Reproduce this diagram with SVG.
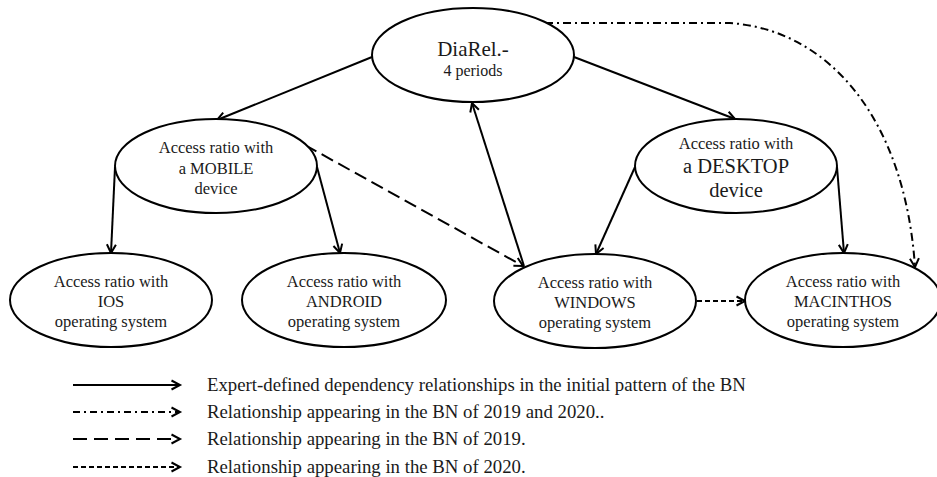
<svg xmlns="http://www.w3.org/2000/svg" width="937" height="477" viewBox="0 0 937 477" font-family="'Liberation Serif', 'Times New Roman', serif">
<defs>
<style>
.node ellipse{fill:#fff;stroke:#000;stroke-width:2}
text{font-family:'Liberation Serif','Times New Roman',serif;fill:#1a1a1a}
.t{font-size:16.5px;text-anchor:middle}
.big{font-size:20.5px;text-anchor:middle}
.leg{font-size:18.8px}
.e{fill:none;stroke:#000;stroke-width:2}
.dd{stroke-dasharray:8 4 2 4}
.ld{stroke-dasharray:13 6}
.sd{stroke-dasharray:5 3}
</style>
<marker id="ah" markerUnits="userSpaceOnUse" markerWidth="12" markerHeight="12" refX="10" refY="6" orient="auto" overflow="visible">
<path d="M1.5,1.5 L10,6 L1.5,10.5" fill="none" stroke="#000" stroke-width="2" stroke-dasharray="none"/>
</marker>
</defs>
<rect width="937" height="477" fill="#fff"/>
<g id="connectors">
<line class="e" x1="372" y1="57" x2="217" y2="120" marker-end="url(#ah)"/>
<line class="e" x1="574" y1="57" x2="735" y2="119" marker-end="url(#ah)"/>
<line class="e" x1="115" y1="167" x2="111" y2="253" marker-end="url(#ah)"/>
<line class="e" x1="317" y1="167" x2="340" y2="253" marker-end="url(#ah)"/>
<line class="e ld" x1="305" y1="145" x2="523" y2="266" marker-end="url(#ah)"/>
<line class="e" x1="524" y1="266" x2="472" y2="103" marker-end="url(#ah)"/>
<line class="e" x1="635" y1="167" x2="596" y2="254" marker-end="url(#ah)"/>
<line class="e" x1="837" y1="167" x2="844" y2="253" marker-end="url(#ah)"/>
<line class="e sd" x1="697" y1="301" x2="745" y2="301" marker-end="url(#ah)"/>
<path class="e dd" d="M545,23 L730,23 C830,30 905,120 915,267" marker-end="url(#ah)"/>
</g>
<g id="DiaRel" class="node">
<ellipse cx="473" cy="55" rx="101" ry="47"/>
<text class="t" x="473" y="56" style="font-size:21px">DiaRel.-</text>
<text class="t" x="473" y="76" style="font-size:16px">4 periods</text>
</g>
<g id="Mobile" class="node">
<ellipse cx="216" cy="166" rx="101" ry="47"/>
<text class="t" x="216" y="153">Access ratio with</text>
<text class="t" x="216" y="174">a MOBILE</text>
<text class="t" x="216" y="194">device</text>
</g>
<g id="Desktop" class="node">
<ellipse cx="736" cy="166" rx="101" ry="47"/>
<text class="t" x="736" y="149">Access ratio with</text>
<text class="big" x="736" y="173">a DESKTOP</text>
<text class="big" x="736" y="197">device</text>
</g>
<g id="IOS" class="node">
<ellipse cx="111" cy="300" rx="101" ry="47"/>
<text class="t" x="111" y="287">Access ratio with</text>
<text class="t" x="111" y="307">IOS</text>
<text class="t" x="111" y="327">operating system</text>
</g>
<g id="Android" class="node">
<ellipse cx="344" cy="300" rx="102" ry="47"/>
<text class="t" x="344" y="287">Access ratio with</text>
<text class="t" x="344" y="307">ANDROID</text>
<text class="t" x="344" y="327">operating system</text>
</g>
<g id="Windows" class="node">
<ellipse cx="595" cy="301" rx="101" ry="47"/>
<text class="t" x="595" y="288">Access ratio with</text>
<text class="t" x="595" y="308">WINDOWS</text>
<text class="t" x="595" y="328">operating system</text>
</g>
<g id="Macinthos" class="node">
<ellipse cx="843" cy="300" rx="98" ry="47"/>
<text class="t" x="843" y="287">Access ratio with</text>
<text class="t" x="843" y="307">MACINTHOS</text>
<text class="t" x="843" y="327">operating system</text>
</g>
<g id="legend">
<line class="e" x1="73" y1="385" x2="180" y2="385" marker-end="url(#ah)"/>
<line class="e" x1="73" y1="412" x2="180" y2="412" style="stroke-dasharray:7 4 2 4" marker-end="url(#ah)"/>
<line class="e" x1="73" y1="439" x2="180" y2="439" style="stroke-dasharray:14 7" marker-end="url(#ah)"/>
<line class="e" x1="73" y1="467" x2="180" y2="467" style="stroke-dasharray:5 3" marker-end="url(#ah)"/>
<text class="leg" x="207" y="391">Expert-defined dependency relationships in the initial pattern of the BN</text>
<text class="leg" x="207" y="418">Relationship appearing in the BN of 2019 and 2020..</text>
<text class="leg" x="207" y="445">Relationship appearing in the BN of 2019.</text>
<text class="leg" x="207" y="473">Relationship appearing in the BN of 2020.</text>
</g>
</svg>
